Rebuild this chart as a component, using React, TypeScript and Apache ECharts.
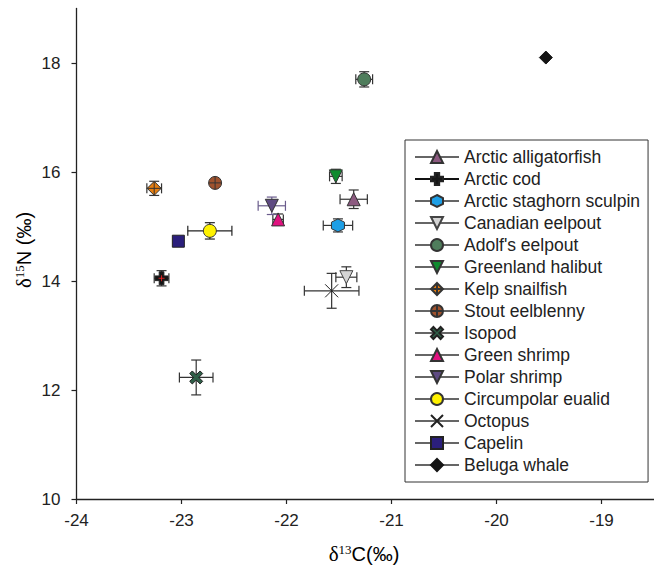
import React, { useEffect, useRef } from "react";
import * as echarts from "echarts";

// ---- data ----
const categories = [
  "Arctic alligatorfish",
  "Arctic cod",
  "Arctic staghorn sculpin",
  "Canadian eelpout",
  "Adolf's eelpout",
  "Greenland halibut",
  "Kelp snailfish",
  "Stout eelblenny",
  "Isopod",
  "Green shrimp",
  "Polar shrimp",
  "Circumpolar eualid",
  "Octopus",
  "Capelin",
  "Beluga whale",
];
const d13C = [-21.36, -23.19, -21.51, -21.43, -21.26, -21.53, -23.26, -22.68, -22.86, -22.08, -22.14, -22.73, -21.57, -23.03, -19.53];
const d15N = [15.5, 14.05, 15.02, 14.07, 17.7, 15.92, 15.7, 15.8, 12.23, 15.13, 15.38, 14.92, 13.82, 14.73, 18.1];
const errC = [0.13, 0.07, 0.14, 0.1, 0.08, 0.06, 0.07, 0, 0.16, 0.05, 0.13, 0.21, 0.26, 0, 0];
const errN = [0.17, 0.14, 0.12, 0.19, 0.14, 0.13, 0.13, 0, 0.32, 0.1, 0.16, 0.15, 0.32, 0, 0];
const xTicks = [-24, -23, -22, -21, -20, -19];
const yTicks = [10, 12, 14, 16, 18];

// ---- styles ----
const P_PLUS = "path://M3.2,0H6.8V3.2H10V6.8H6.8V10H3.2V6.8H0V3.2H3.2Z";
const P_HEX = "path://M5,0L9.33,2.5L9.33,7.5L5,10L0.67,7.5L0.67,2.5Z";
const P_DIAMOND_CROSS = "path://M5,0L10,5L5,10L0,5Z M5,0L5,10 M0,5L10,5";
const P_CIRCLE_CROSS = "path://M10,5A5,5,0,1,1,0,5A5,5,0,1,1,10,5Z M5,0L5,10 M0,5L10,5";
const P_XTHICK = "path://M2,0L5,3L8,0L10,2L7,5L10,8L8,10L5,7L2,10L0,8L3,5L0,2Z";
const P_XTHIN = "path://M0,0L10,10M10,0L0,10";

const symbols = ["triangle", P_PLUS, P_HEX, "triangle", "circle", "triangle", P_DIAMOND_CROSS, P_CIRCLE_CROSS, P_XTHICK, "triangle", "triangle", "circle", P_XTHIN, "rect", "diamond"];
const rotations = [0, 0, 0, 180, 0, 180, 0, 0, 0, 0, 180, 0, 0, 0, 0];
const fills = ["#8c5a80", "#151515", "#1e9fe6", "#d4d4d4", "#4f7d5c", "#0f8b2f", "#e67e10", "#a0522d", "#2f5f48", "#e0127f", "#5e4a82", "#fff200", "transparent", "#2b1f7c", "#151515"];
const sizes = [13, 13, 13, 13, 13, 13, 14, 13, 13, 13, 13, 13, 13, 12, 13];
const borderColors = ["#333", "#222", "#333", "#444", "#333", "#333", "#333", "#333", "#222", "#333", "#333", "#333", "#222", "#222", "#151515"];
const legendLine = ["#666", "#111", "#666", "#666", "#666", "#666", "#666", "#666", "#666", "#666", "#666", "#666", "#666", "#666", "#666"];
const errColors = ["#333", "#333", "#333", "#333", "#333", "#333", "#333", "#333", "#333", "#333", "#6a5c8c", "#222", "#333", "#333", "#333"];

const SANS = "'Liberation Sans', Arial, sans-serif";
const SERIF = "'Liberation Serif', 'Times New Roman', serif";

export default function App() {
  const ref = useRef<HTMLDivElement>(null);
  useEffect(() => {
    if (!ref.current) return;
    const chart = echarts.init(ref.current, null, { renderer: "svg" });

    const errData = categories.map((_, i) => [d13C[i], d15N[i], errC[i], errN[i], i]);

    const pointSeries: any[] = categories.map((name, i) => ({
      name,
      type: "line",
      data: [[d13C[i], d15N[i]]],
      symbol: symbols[i],
      symbolSize: sizes[i],
      symbolRotate: rotations[i],
      showSymbol: true,
      z: 5,
      lineStyle: { color: legendLine[i], width: i === 1 ? 1.6 : 1.2 },
      itemStyle: {
        color: fills[i],
        borderColor: borderColors[i],
        borderWidth: 1,
        opacity: 1,
      },
      emphasis: { disabled: true },
    }));

    const titleRich = (sup: number) => ({
      d: { fontFamily: SERIF, fontSize: 21, color: "#222", lineHeight: 22 },
      s: { fontFamily: SERIF, fontSize: sup, color: "#222", verticalAlign: "top", lineHeight: 22, padding: [0, 0, 10, 0] },
      t: { fontFamily: SANS, fontSize: 20, color: "#222", lineHeight: 22 },
    });

    const option: any = {
      animation: false,
      backgroundColor: "#ffffff",
      grid: { left: 76.5, top: 8.5, bottom: 67, right: -4 },
      xAxis: {
        type: "value",
        min: -24,
        max: -18.5,
        interval: 1,
        splitLine: { show: false },
        axisLine: { onZero: false, lineStyle: { color: "#222", width: 1.3 } },
        axisTick: { show: true, length: 5, inside: false, customValues: xTicks, lineStyle: { color: "#222", width: 1.2 } },
        axisLabel: { customValues: xTicks, fontFamily: SANS, fontSize: 17, color: "#222", margin: 13 },
      },
      yAxis: {
        type: "value",
        min: 10,
        max: 19,
        interval: 2,
        splitLine: { show: false },
        axisLine: { onZero: false, lineStyle: { color: "#222", width: 1.3 } },
        axisTick: { show: true, length: 5, inside: false, customValues: yTicks, lineStyle: { color: "#222", width: 1.2 } },
        axisLabel: { customValues: yTicks, fontFamily: SANS, fontSize: 17, color: "#222", margin: 16 },
      },
      legend: {
        data: categories,
        orient: "vertical",
        left: 405,
        top: 140,
        padding: [8, 8, 8, 9],
        itemWidth: 44,
        itemHeight: 15,
        itemGap: 4,
        borderColor: "#333",
        borderWidth: 1,
        backgroundColor: "#fff",
        selectedMode: false,
        textStyle: { fontFamily: SANS, fontSize: 17.5, color: "#222", lineHeight: 18 },
      },
      graphic: [
        {
          type: "text",
          x: 364,
          y: 554,
          style: {
            text: "{d|δ}{s|13}{t|C(‰)}",
            align: "center",
            verticalAlign: "middle",
            rich: titleRich(13),
          },
        },
        {
          type: "text",
          x: 24,
          y: 250,
          rotation: Math.PI / 2,
          style: {
            text: "{d|δ}{s|15}{t|N (‰)}",
            align: "center",
            verticalAlign: "middle",
            rich: titleRich(13),
          },
        },
      ],
      series: [
        {
          name: "errorbars",
          type: "custom",
          z: 2,
          silent: true,
          data: errData,
          renderItem: (params: any, api: any) => {
            const x = api.value(0);
            const y = api.value(1);
            const xe = api.value(2);
            const ye = api.value(3);
            const idx = api.value(4);
            const color = errColors[idx];
            const style = { stroke: color, lineWidth: 1.2 };
            const children: any[] = [];
            const cap = 5;
            if (xe > 0) {
              const l = api.coord([x - xe, y]);
              const r = api.coord([x + xe, y]);
              children.push({ type: "line", shape: { x1: l[0], y1: l[1], x2: r[0], y2: r[1] }, style });
              children.push({ type: "line", shape: { x1: l[0], y1: l[1] - cap, x2: l[0], y2: l[1] + cap }, style });
              children.push({ type: "line", shape: { x1: r[0], y1: r[1] - cap, x2: r[0], y2: r[1] + cap }, style });
            }
            if (ye > 0) {
              const t = api.coord([x, y + ye]);
              const b = api.coord([x, y - ye]);
              children.push({ type: "line", shape: { x1: t[0], y1: t[1], x2: b[0], y2: b[1] }, style });
              children.push({ type: "line", shape: { x1: t[0] - cap, y1: t[1], x2: t[0] + cap, y2: t[1] }, style });
              children.push({ type: "line", shape: { x1: b[0] - cap, y1: b[1], x2: b[0] + cap, y2: b[1] }, style });
            }
            return { type: "group", children };
          },
        },
        ...pointSeries,
        {
          name: "codmark",
          type: "scatter",
          z: 6,
          silent: true,
          data: [[d13C[1], d15N[1]]],
          symbol: "path://M5,0V10M0,5H10",
          symbolSize: 6,
          itemStyle: { color: "transparent", borderColor: "#ff2020", borderWidth: 1 },
        },
      ],
    };
    chart.setOption(option);
    return () => chart.dispose();
  }, []);
  return (
    <div
      ref={ref}
      style={{ position: "absolute", left: 0, top: 0, width: 654, height: 566, background: "#fff" }}
    />
  );
}
